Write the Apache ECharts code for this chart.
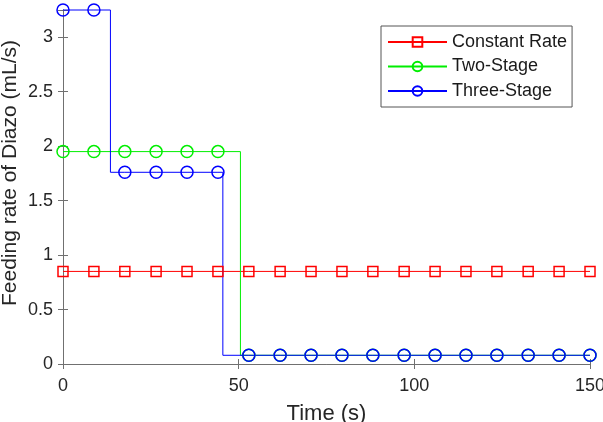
<!DOCTYPE html>
<html>
<head>
<meta charset="utf-8">
<script src="https://cdn.jsdelivr.net/npm/echarts@6/dist/echarts.min.js"></script>
<style>
html, body { margin: 0; padding: 0; background: #fff; }
#main { width: 603px; height: 422px; }
</style>
</head>
<body>
<div id="main"></div>
<script>
// marker positions along the time axis (s)
var markerTimes = [0, 8.8, 17.6, 26.5, 35.3, 44.1, 52.9, 61.8, 70.6, 79.4, 88.2, 97.1, 105.9, 114.7, 123.5, 132.4, 141.2, 150];

// each stage: end time (s) and feeding rate (mL/s)
var constantEnds = [150];
var constantRates = [0.85];
var twoStageEnds = [50.5, 150];
var twoStageRates = [1.95, 0.08];
var threeStageEnds = [13.5, 45.5, 150];
var threeStageRates = [3.25, 1.76, 0.08];

var xTicks = [0, 50, 100, 150];
var yTicks = [0, 0.5, 1, 1.5, 2, 2.5, 3];

var font = 'Liberation Sans, Arial, sans-serif';
var axisGray = '#707070';

function rateAt(t, ends, rates) {
	for (var i = 0; i < ends.length; i++) {
		if (t < ends[i] || i == ends.length - 1) return rates[i];
	}
}

// markers plus hidden points where the stage changes, drawn as a step line
function stepData(ends, rates) {
	var pts = [];
	markerTimes.forEach(function (t) {
		pts.push({ value: [t, rateAt(t, ends, rates)] });
	});
	for (var i = 0; i < ends.length - 1; i++) {
		pts.push({ value: [ends[i], rates[i + 1]], symbol: 'none' });
	}
	pts.sort(function (a, b) { return a.value[0] - b.value[0]; });
	return pts;
}

function makeSeries(name, color, symbol, size, ends, rates) {
	return {
		name: name,
		type: 'line',
		step: 'end',
		symbol: symbol,
		symbolSize: size,
		showAllSymbol: true,
		clip: false,
		lineStyle: { color: color, width: 1 },
		itemStyle: { color: 'rgba(255,255,255,0)', borderColor: color, borderWidth: 1.5 },
		emphasis: { disabled: true },
		data: stepData(ends, rates)
	};
}

var myChart = echarts.init(document.getElementById('main'));

var option = {
	animation: false,
	backgroundColor: '#fff',
	grid: { left: 63, right: 13, top: 10, bottom: 58, containLabel: false, outerBoundsMode: 'none' },
	legend: {
		orient: 'vertical',
		left: 381,
		top: 26,
		padding: [7, 5, 7, 6],
		itemWidth: 59,
		itemHeight: 12,
		itemGap: 6.5,
		backgroundColor: '#fff',
		borderColor: '#555',
		borderWidth: 1,
		borderRadius: 0,
		textStyle: { fontFamily: font, fontSize: 18, color: '#1a1a1a', lineHeight: 18 },
		data: ['Constant Rate', 'Two-Stage', 'Three-Stage']
	},
	xAxis: [
		{
			type: 'value',
			min: 0, max: 150, interval: 50,
			name: 'Time (s)',
			nameLocation: 'middle',
			nameGap: 39,
			nameMoveOverlap: false,
			nameTextStyle: { fontFamily: font, fontSize: 22, color: '#262626' },
			axisLine: { lineStyle: { color: axisGray, width: 1 } },
			axisTick: { inside: true, length: 5, lineStyle: { color: axisGray } },
			axisLabel: { fontFamily: font, fontSize: 18, color: '#262626', margin: 13 },
			splitLine: { show: false }
		},
		{
			type: 'value',
			position: 'top',
			min: 0, max: 150, interval: 50,
			axisLine: { lineStyle: { color: axisGray, width: 1 } },
			axisTick: { inside: true, length: 5, lineStyle: { color: axisGray } },
			axisLabel: { show: false },
			splitLine: { show: false }
		}
	],
	yAxis: [
		{
			type: 'value',
			min: 0, max: 3.25, interval: 0.5,
			name: 'Feeding rate of Diazo (mL/s)',
			nameLocation: 'middle',
			nameGap: 42,
			nameMoveOverlap: false,
			nameTextStyle: { fontFamily: font, fontSize: 21, color: '#262626', padding: [0, 0, 0, 28] },
			axisLine: { show: true, lineStyle: { color: axisGray, width: 1 } },
			axisTick: { show: true, inside: true, length: 5, lineStyle: { color: axisGray } },
			axisLabel: {
				fontFamily: font, fontSize: 18, color: '#262626', margin: 10,
				formatter: function (v) { return yTicks.indexOf(v) >= 0 ? String(v) : ''; }
			},
			splitLine: { show: false }
		},
		{
			type: 'value',
			position: 'right',
			min: 0, max: 3.25, interval: 0.5,
			axisLine: { show: true, lineStyle: { color: axisGray, width: 1 } },
			axisTick: { show: true, inside: true, length: 5, lineStyle: { color: axisGray } },
			axisLabel: { show: false },
			splitLine: { show: false }
		}
	],
	series: [
		makeSeries('Constant Rate', '#ff0000', 'rect', 10, constantEnds, constantRates),
		makeSeries('Two-Stage', '#00ee00', 'circle', 12, twoStageEnds, twoStageRates),
		makeSeries('Three-Stage', '#0000ff', 'circle', 12, threeStageEnds, threeStageRates)
	]
};

myChart.setOption(option);
</script>
</body>
</html>
